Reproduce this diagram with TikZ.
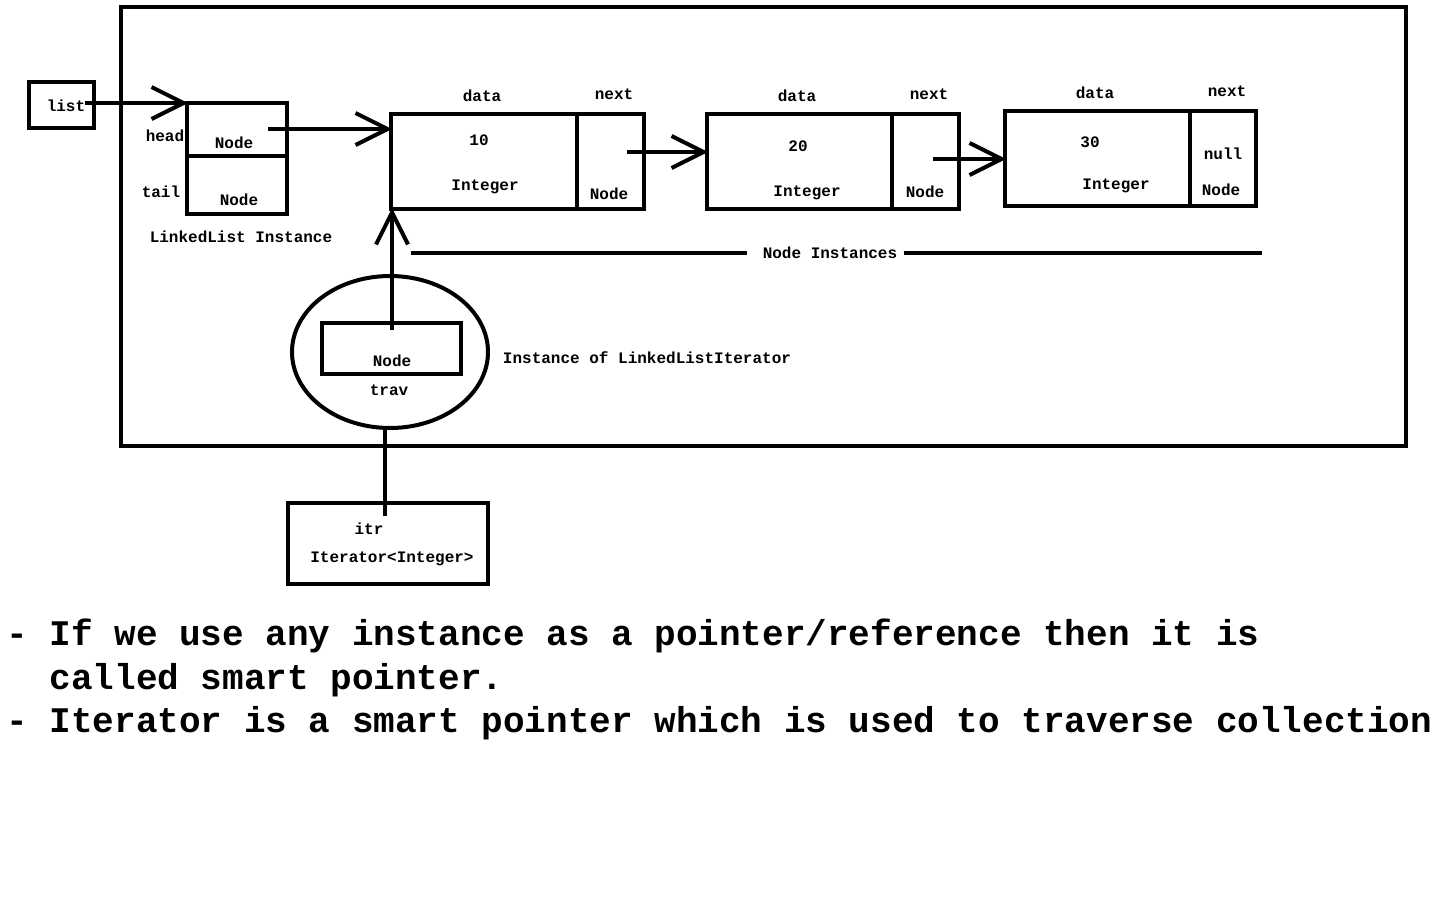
\documentclass[tikz,border=0pt]{standalone}
\usepackage{fontspec}
\setmainfont{Liberation Mono}
\usetikzlibrary{arrows.meta,shapes.geometric}
\begin{document}
\begin{tikzpicture}[x=0.5pt,y=-0.5pt,
  rect/.style={draw, line width=2pt, inner sep=0pt},
  lbl/.style={font=\bfseries\fontsize{8}{9.6}\selectfont, inner sep=0pt},
  big/.style={font=\bfseries\fontsize{18}{22}\selectfont, inner sep=0pt, anchor=base west},
  wire/.style={line width=2pt},
  arr/.style={line width=2pt, shorten >=-1.5pt, -{Straight Barb[length=16pt,width=16pt]}}
]
\useasboundingbox (0,0) rectangle (1440,900);
\fill[white] (0,0) rectangle (1440,900);

% frame
\node[rect, minimum width=642.5pt, minimum height=219.5pt] (frame) at (763.5,226.5) {};

% list variable
\node[rect, minimum width=32.5pt, minimum height=23pt] (list) at (61.5,105) {};
\node[lbl] (listl) at (66,106) {list};

% LinkedList instance
\node[rect, minimum width=50pt, minimum height=26.5pt] (head) at (237,129.5) {};
\node[rect, minimum width=50pt, minimum height=29pt] (tail) at (237,185) {};
\node[lbl] (headl) at (165,136) {head};
\node[lbl] (taill) at (161,192) {tail};
\node[lbl] (headn) at (234,143) {Node};
\node[lbl] (tailn) at (239,200) {Node};
\node[lbl] (lli) at (241,237) {LinkedList Instance};

% node 1
\node[rect, minimum width=93pt, minimum height=47.5pt] (n1d) at (484,161.5) {};
\node[rect, minimum width=33.5pt, minimum height=47.5pt] (n1n) at (610.5,161.5) {};
\node[lbl] (n1dl) at (482,96) {data};
\node[lbl] (n1nl) at (614,94) {next};
\node[lbl] (n1v) at (479,140) {10};
\node[lbl] (n1t) at (485,187) {Integer};
\node[lbl] (n1nt) at (609,194) {Node};

% node 2
\node[rect, minimum width=92.5pt, minimum height=47.5pt] (n2d) at (799.5,161.5) {};
\node[rect, minimum width=33.5pt, minimum height=47.5pt] (n2n) at (925.5,161.5) {};
\node[lbl] (n2dl) at (797,96) {data};
\node[lbl] (n2nl) at (929,94) {next};
\node[lbl] (n2v) at (798,146) {20};
\node[lbl] (n2t) at (807,193) {Integer};
\node[lbl] (n2nt) at (925,192) {Node};

% node 3
\node[rect, minimum width=92.5pt, minimum height=47.5pt] (n3d) at (1097.5,158.5) {};
\node[rect, minimum width=33pt, minimum height=47.5pt] (n3n) at (1223,158.5) {};
\node[lbl] (n3dl) at (1095,93) {data};
\node[lbl] (n3nl) at (1227,91) {next};
\node[lbl] (n3v) at (1090,142) {30};
\node[lbl] (n3t) at (1116,186) {Integer};
\node[lbl] (n3null) at (1223,154) {null};
\node[lbl] (n3nt) at (1221,190) {Node};

% node instances bar
\node[lbl] (ni) at (830,253) {Node Instances};
\coordinate (niL) at (411,253);
\coordinate (niR) at (1262,253);
\draw[wire] (niL) -- ([xshift=-7.5pt]ni.west);
\draw[wire] ([xshift=3pt]ni.east) -- (niR);

% iterator instance
\node[draw, ellipse, line width=2pt, inner sep=0pt, minimum width=98pt, minimum height=76pt] (ell) at (390,352) {};
\node[rect, minimum width=69.5pt, minimum height=25.5pt] (trav) at (391.5,348.5) {};
\node[lbl] (travn) at (392,361) {Node};
\node[lbl] (travl) at (389,390) {trav};
\node[lbl] (illi) at (647,358) {Instance of LinkedListIterator};

% itr variable
\node[rect, minimum width=100pt, minimum height=40.5pt] (itr) at (388,543.5) {};
\node[lbl] (itrl) at (369,529) {itr};
\node[lbl] (itrt) at (392,559) {Iterator<Integer>};

% connectors
\coordinate (ls) at (85,103);
\draw[arr] (ls) -- (ls -| head.west);
\coordinate (hs) at (268,129);
\draw[arr] (hs) -- (hs -| n1d.west);
\coordinate (p1) at (627,152);
\draw[arr] (p1) -- (p1 -| n2d.west);
\coordinate (p2) at (933,159);
\draw[arr] (p2) -- (p2 -| n3d.west);
\coordinate (ts) at (392,330);
\draw[arr] (ts) -- (ts |- n1d.south);
\coordinate (is) at (385,516);
\draw[wire] (is) -- (is |- ell.south);

% notes
\node[big] (t1) at (6,645) {- If we use any instance as a pointer/reference then it is};
\node[big] (t2) at (49.2,689) {called smart pointer.};
\node[big] (t3) at (6,732) {- Iterator is a smart pointer which is used to traverse collection};
\end{tikzpicture}
\end{document}
